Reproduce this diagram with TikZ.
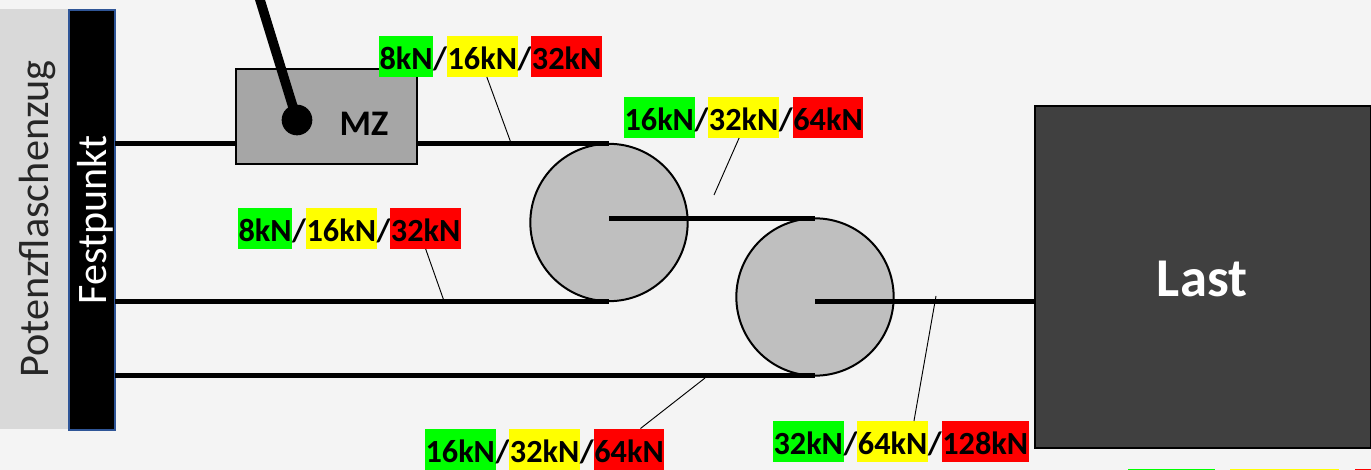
\documentclass[tikz,border=0pt]{standalone}
\usepackage{fontspec}
\setmainfont{Carlito}
\usetikzlibrary{positioning}
\definecolor{backgr}{HTML}{F4F4F4}
\definecolor{panel}{HTML}{D9D9D9}
\definecolor{festrand}{HTML}{2F5597}
\definecolor{mzgrau}{HTML}{A6A6A6}
\definecolor{rolle}{HTML}{BFBFBF}
\definecolor{lastgrau}{HTML}{404040}
\definecolor{tagred}{HTML}{FF0000}
\definecolor{taggreen}{HTML}{00FF00}
\definecolor{tagyellow}{HTML}{FFFF00}

\begin{document}
\begin{tikzpicture}[x=0.75pt, y=-0.75pt]
\tikzstyle{every node}=[outer sep=0pt];
\tikzstyle{rope}=[line width=3.6pt];
\tikzstyle{leader}=[line width=0.7pt];
\tikzstyle{pulley}=[draw, line width=1.5pt, shape=circle, fill=rolle, minimum size=118pt];
\tikzstyle{force}=[font=\fontsize{24.2}{24}\selectfont\bfseries, inner xsep=0.4pt, inner ysep=0pt, minimum height=30.75pt, text height=19.5pt, text depth=0pt];
\tikzstyle{slash}=[font=\fontsize{24.2}{24}\selectfont\bfseries, inner sep=0pt, minimum height=30.75pt, text height=19.5pt, text depth=0pt];
\useasboundingbox (0,0) rectangle (1371,470);
\clip (0,0) rectangle (1371,470);
\fill[backgr] (0,0) rectangle (1371,470);
\node[fill=panel, rotate=90, minimum width=315pt, minimum height=51pt, inner sep=0pt, font=\fontsize{31.7}{32}\selectfont, text=black!85, text height=28.2pt, text depth=6pt] (zug) at (34,219) {Potenzflaschenzug};
\node[draw=festrand, fill=black, line width=1.5pt, rotate=90, minimum width=314.5pt, minimum height=34.5pt, inner sep=0pt, font=\fontsize{31.5}{32}\selectfont, text=white, text height=27pt, text depth=6pt] (fest) at (92,220) {Festpunkt};
\node[draw, fill=mzgrau, line width=1.5pt, minimum width=135.75pt, minimum height=71.25pt] (mz) at (326.5,116.5) {};
\node[font=\fontsize{27}{27}\selectfont\bfseries] (mztext) at (364,124) {MZ};
\node[fill=black, shape=circle, minimum size=23pt, inner sep=0pt] (knob) at (297,120) {};
\coordinate (griff) at (258.5,-5);
\draw[line width=7.2pt] (griff) -- (knob.center);
\node[pulley] (p1) at (609,222.5) {};
\node[pulley] (p2) at (815,297) {};
\node[draw, fill=lastgrau, line width=1.5pt, minimum width=252pt, minimum height=256.5pt, inner sep=0pt] (last) at (1203,277) {};
\node[font=\fontsize{41}{41}\selectfont\bfseries, text=white] (lasttext) at (1202,279) {Last};
% seil
\draw[rope]
(fest.south |- p1.north) -- (mz.west |- p1.north) (mz.east |- p1.north) -- (p1.north)
(fest.south |- p1.south) -- (p1.south)
(fest.south |- p2.south) -- (p2.south)
(p1.center |- p2.north) -- (p2.north)
(p2.center |- p1.south) -- (last.west |- p1.south);
% kraefte
\foreach \n/\x/\y/\a/\b/\c in {
k1/379/56.5/8kN/16kN/32kN,
k2/624/117.5/16kN/32kN/64kN,
k3/238/228.5/8kN/16kN/32kN,
k4/425/449/16kN/32kN/64kN,
k5/773/441.5/32kN/64kN/128kN}
{
\node[force, fill=taggreen, anchor=west] (\n a) at (\x,\y) {\a};
\node[slash, right=0pt of \n a] (\n s) {/};
\node[force, fill=tagyellow, right=0pt of \n s] (\n b) {\b};
\node[slash, right=0pt of \n b] (\n t) {/};
\node[force, fill=tagred, right=0pt of \n t] (\n c) {\c};
}
\coordinate (c1) at (511,143);
\coordinate (c2) at (714,195);
\coordinate (c3) at (444,301);
\coordinate (c4) at (705,378);
\coordinate (c5) at (936,296);
\draw[leader]
([xshift=3.4pt]k1b.south) -- (c1)
([xshift=-3.4pt]k2b.south) -- (c2)
(k3c.south) -- (c3)
([xshift=8.6pt]k4c.north) -- (c4)
([xshift=16pt]k5b.north) -- (c5);
% reste unten rechts
\fill[taggreen] (1128,469) rectangle (1215,470);
\fill[tagyellow] (1230,469) rectangle (1339,470);
\fill[tagred] (1355,469) rectangle (1371,470);
\end{tikzpicture}
\end{document}
